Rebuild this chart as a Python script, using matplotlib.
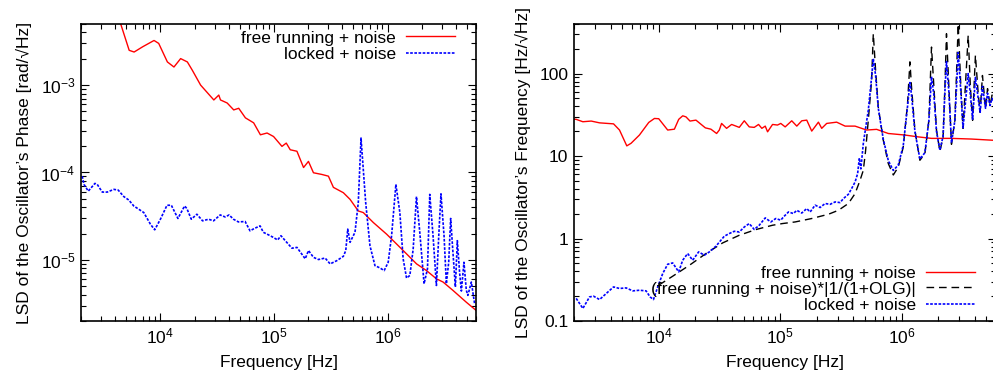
import matplotlib
matplotlib.use("Agg")
import matplotlib.pyplot as plt
from matplotlib.legend import Legend
from matplotlib.ticker import LogLocator, NullFormatter, FuncFormatter

plt.rcParams['font.family'] = ['Liberation Sans', 'DejaVu Sans']
plt.rcParams['mathtext.fontset'] = 'custom'
plt.rcParams['mathtext.rm'] = 'Liberation Sans'
plt.rcParams['mathtext.it'] = 'Liberation Sans:italic'
plt.rcParams['mathtext.default'] = 'regular'

# ---------------- data: left panel (phase) ----------------
phase_free_f = [4000, 4490, 5310, 5870, 7000, 8790, 9660, 11520, 13160, 15070, 17270, 19090,
                22590, 29530, 32660, 33800, 38700, 44200, 48900, 56000, 66200, 75900, 86900,
                99100, 117500, 128200, 139000, 159200, 182000, 201000, 222500, 263700, 301300,
                333300, 408000, 467000, 552000, 611000, 748000, 980000, 1.20e6, 1.47e6, 1.80e6,
                2.20e6, 2.69e6, 3.08e6, 3.76e6, 4.93e6, 6.0e6]
phase_free = [7.0e-3, 4.93e-3, 2.50e-3, 2.39e-3, 2.75e-3, 3.24e-3, 3.0e-3, 1.84e-3, 1.61e-3,
              2.01e-3, 1.84e-3, 1.48e-3, 1.0e-3, 6.76e-4, 7.69e-4, 6.76e-4, 6.24e-4, 5.2e-4,
              5.43e-4, 4.22e-4, 3.70e-4, 2.70e-4, 2.83e-4, 2.58e-4, 1.99e-4, 2.17e-4, 1.82e-4,
              1.75e-4, 1.14e-4, 1.34e-4, 9.93e-5, 9.5e-5, 9.08e-5, 6.76e-5, 5.87e-5, 4.93e-5,
              3.63e-5, 3.48e-5, 2.68e-5, 1.97e-5, 1.52e-5, 1.17e-5, 9.0e-6, 7.55e-6, 6.08e-6,
              5.58e-6, 4.48e-6, 3.28e-6, 2.65e-6]

phase_locked_f = [2050, 2125, 2317, 2652, 2780, 3076, 3404, 3894, 4246, 4766, 5270, 5830, 6450,
                  7140, 8170, 8910, 10000, 11430, 12480, 14260, 16330, 17100, 18700, 20950,
                  23500, 26540, 29370, 33600, 37150, 40270, 43970, 48630, 55690, 61520, 67140,
                  75380, 80520, 89070, 98600, 107600, 115200, 125600, 143900, 159200, 188200,
                  201200, 222500, 246200, 281800, 311900, 357100, 408000, 428300, 445700,
                  466900, 516400, 552000, 583400, 611000, 641000, 699500, 773900, 855500,
                  933000, 1.012e6, 1.084e6, 1.183e6, 1.282e6, 1.370e6, 1.468e6, 1.570e6,
                  1.679e6, 1.795e6, 1.920e6, 2.094e6, 2.244e6, 2.350e6, 2.512e6, 2.69e6,
                  2.82e6, 2.95e6, 3.14e6, 3.29e6, 3.45e6, 3.59e6, 3.76e6, 3.95e6, 4.11e6,
                  4.31e6, 4.46e6, 4.70e6, 4.93e6, 5.09e6, 5.46e6, 5.83e6]
phase_locked = [9.08e-5, 7.31e-5, 6.12e-5, 7.5e-5, 7.31e-5, 5.97e-5, 5.97e-5, 6.41e-5, 6.30e-5,
                5.30e-5, 4.84e-5, 4.14e-5, 3.80e-5, 3.48e-5, 2.56e-5, 2.21e-5, 2.92e-5, 4.22e-5,
                4.22e-5, 2.98e-5, 4.14e-5, 3.87e-5, 2.92e-5, 3.33e-5, 2.80e-5, 2.92e-5, 2.80e-5,
                3.27e-5, 3.10e-5, 3.27e-5, 2.92e-5, 2.72e-5, 2.75e-5, 2.15e-5, 2.29e-5, 2.45e-5,
                2.07e-5, 1.94e-5, 1.81e-5, 1.69e-5, 1.89e-5, 1.66e-5, 1.36e-5, 1.39e-5, 1.03e-5,
                1.28e-5, 1.07e-5, 1.01e-5, 1.05e-5, 9.0e-6, 9.8e-6, 1.10e-5, 1.28e-5, 2.25e-5,
                1.59e-5, 2.07e-5, 4.53e-5, 2.48e-4, 1.08e-4, 4.56e-5, 1.45e-5, 8.6e-6, 8.1e-6,
                7.55e-6, 9.4e-6, 1.89e-5, 7.31e-5, 3.48e-5, 1.03e-5, 6.2e-6, 6.64e-6, 1.33e-5,
                5.30e-5, 2.07e-5, 5.33e-6, 7.9e-6, 5.62e-5, 1.89e-5, 5.1e-6, 1.89e-5, 5.7e-5,
                1.89e-5, 5.33e-6, 9.4e-6, 2.98e-5, 1.22e-5, 4.9e-6, 1.66e-5, 7.0e-6, 4.4e-6,
                9.4e-6, 4.5e-6, 3.93e-6, 5.58e-6, 3.16e-6]

# ---------------- data: right panel (frequency) ----------------
freq_free_f = [2000, 2085, 2366, 2770, 3250, 4235, 4742, 5445, 5905, 6920, 8260, 9200, 9980,
               11830, 13430, 14580, 15730, 16740, 18060, 20230, 24170, 26860, 29930, 31500,
               32890, 36150, 39800, 46000, 50580, 55590, 61100, 66340, 70600, 75300, 78700,
               86500, 95000, 101100, 109900, 124500, 137000, 150600, 165500, 181900, 206500,
               219800, 241600, 291900, 342600, 413800, 515600, 622900, 777600, 1.066e6,
               1.372e6, 1.765e6, 2.578e6, 3.765e6, 5.50e6, 6.0e6]
freq_free = [28.0, 27.9, 26.1, 26.6, 25.3, 24.6, 20.7, 13.3, 14.3, 18.0, 25.6, 28.6, 28.4, 20.7,
             21.2, 27.9, 30.8, 29.9, 26.6, 27.3, 22.0, 21.2, 18.8, 20.7, 24.9, 21.7, 24.2, 22.3,
             26.8, 22.6, 22.3, 24.2, 21.7, 23.1, 19.7, 24.2, 23.8, 24.9, 22.6, 26.8, 23.1, 26.8,
             27.3, 20.1, 25.8, 21.7, 24.9, 25.8, 23.1, 23.1, 20.7, 21.1, 18.8, 18.0, 17.1, 16.4,
             16.4, 16.1, 15.6, 15.5]

freq_olg_f = [9980, 13000, 17850, 24450, 33550, 46000, 63000, 86500, 104500, 132800, 182000,
              249500, 301500, 364500, 414000, 455000, 484000, 505000, 532000, 566600, 585000,
              611000, 643000, 707000, 778000, 855000, 940000, 1.033e6, 1.12e6, 1.172e6,
              1.208e6, 1.288e6, 1.416e6, 1.557e6, 1.679e6, 1.765e6, 1.847e6, 1.94e6, 2.07e6,
              2.2e6, 2.275e6, 2.345e6, 2.454e6, 2.578e6, 2.75e6, 2.93e6, 3.08e6, 3.21e6,
              3.54e6, 3.69e6, 3.85e6, 4.06e6, 4.28e6, 4.44e6, 4.64e6, 4.92e6, 5.11e6, 5.36e6,
              5.57e6, 6.0e6]
freq_olg = [0.272, 0.349, 0.474, 0.658, 0.885, 1.096, 1.285, 1.45, 1.52, 1.59, 1.75, 1.97, 2.20,
            2.66, 3.51, 5.09, 6.73, 11.5, 27.2, 83.0, 305.0, 110.0, 39.3, 15.6, 8.1, 5.9, 7.38,
            12.9, 43.3, 139.0, 68.9, 20.6, 8.9, 10.7, 27.2, 210.0, 68.9, 20.6, 11.4, 17.1, 68.9,
            305.0, 68.9, 13.9, 27.2, 400.0, 68.9, 21.7, 291.0, 68.9, 27.2, 167.0, 57.3, 34.0,
            95.0, 37.9, 65.8, 41.3, 55.0, 45.0]

freq_locked_f = [2085, 2366, 2686, 2898, 3250, 3680, 4235, 4742, 5375, 6100, 6920, 7850, 8470,
                 9030, 9790, 10770, 11830, 13010, 14580, 15730, 17290, 19000, 21290, 23710,
                 26080, 29530, 34620, 38070, 41860, 46000, 50580, 55590, 61100, 67200, 75300,
                 83700, 92000, 101100, 106500, 117000, 128600, 137000, 150600, 165500, 176500,
                 194000, 213300, 234500, 257800, 283400, 311400, 331600, 364500, 387800,
                 414000, 434600, 449000, 462000, 484000, 532000, 566600, 585000, 611000,
                 643000, 707000, 778000, 855000, 940000, 1.033e6, 1.12e6, 1.172e6, 1.208e6,
                 1.288e6, 1.416e6, 1.557e6, 1.679e6, 1.765e6, 1.847e6, 1.94e6, 2.07e6, 2.2e6,
                 2.275e6, 2.345e6, 2.454e6, 2.578e6, 2.75e6, 2.93e6, 3.08e6, 3.21e6, 3.54e6,
                 3.69e6, 3.85e6, 4.06e6, 4.28e6, 4.44e6, 4.64e6, 4.92e6, 5.11e6, 5.36e6,
                 5.57e6, 6.0e6]
freq_locked = [0.188, 0.142, 0.196, 0.200, 0.182, 0.215, 0.259, 0.248, 0.252, 0.232, 0.236,
               0.232, 0.196, 0.182, 0.259, 0.377, 0.488, 0.506, 0.394, 0.546, 0.658, 0.546,
               0.689, 0.628, 0.689, 0.807, 1.067, 1.15, 1.225, 1.20, 1.38, 1.52, 1.29, 1.45,
               1.78, 1.59, 1.75, 1.67, 1.83, 2.10, 2.01, 2.20, 2.04, 2.31, 2.10, 2.54, 2.38,
               2.66, 2.60, 2.78, 2.73, 3.05, 3.44, 4.04, 4.85, 6.14, 9.5, 7.0, 14.2, 36.0,
               91.0, 152.0, 95.0, 38.0, 16.0, 8.8, 6.7, 7.8, 13.5, 40.0, 78.0, 55.0, 20.0,
               9.2, 11.0, 27.0, 92.0, 55.0, 20.0, 11.8, 17.5, 60.0, 140.0, 60.0, 14.5, 27.0,
               180.0, 60.0, 22.0, 100.0, 55.0, 28.0, 90.0, 50.0, 34.0, 70.0, 38.0, 58.0,
               41.0, 50.0, 42.0]

labels_left = ["free running + noise", "locked + noise"]
labels_right = ["free running + noise", "(free running + noise)*|1/(1+OLG)|", "locked + noise"]

# ---------------- figure ----------------
W, H = 993, 381
fig = plt.figure(figsize=(W / 100, H / 100), dpi=100)
FS = 12.5

axL = fig.add_axes([81 / W, (H - 321) / H, 395 / W, 297 / H])
axR = fig.add_axes([574 / W, (H - 321) / H, 422 / W, 297 / H])

RED = '#ff0000'
BLUE = '#0000ff'
dot = (0, (1.6, 0.9))
dash = (0, (5.5, 3.5))

l1, = axL.plot(phase_free_f, phase_free, color=RED, lw=1.0)
l2, = axL.plot(phase_locked_f, phase_locked, color=BLUE, lw=1.2, ls=dot)

r1, = axR.plot(freq_free_f, freq_free, color=RED, lw=1.0)
r2, = axR.plot(freq_olg_f, freq_olg, color='black', lw=1.0, ls=dash)
r3, = axR.plot(freq_locked_f, freq_locked, color=BLUE, lw=1.2, ls=dot)

for ax in (axL, axR):
    ax.set_xscale('log')
    ax.set_yscale('log')
    ax.set_xlim(2e3, 6e6)
    ax.xaxis.set_major_locator(LogLocator(base=10, numticks=20))
    ax.xaxis.set_minor_locator(LogLocator(base=10, subs=range(2, 10), numticks=20))
    ax.xaxis.set_minor_formatter(NullFormatter())
    ax.tick_params(which='both', direction='in', top=True, right=True,
                   labelsize=FS, width=0.8)
    ax.tick_params(which='major', length=6, pad=4)
    ax.tick_params(which='minor', length=3.5)
    for s in ax.spines.values():
        s.set_linewidth(1.2)
    ax.set_xlabel("Frequency [Hz]", fontsize=FS, labelpad=6)

axL.set_ylim(2e-6, 5e-3)
axL.yaxis.set_major_locator(LogLocator(base=10, numticks=20))
axL.yaxis.set_minor_locator(LogLocator(base=10, subs=range(2, 10), numticks=20))
axL.yaxis.set_minor_formatter(NullFormatter())
axL.set_ylabel("LSD of the Oscillator\u2019s Phase [rad/\u221aHz]", fontsize=FS, labelpad=6)

axR.set_ylim(0.1, 400)
axR.yaxis.set_major_locator(LogLocator(base=10, numticks=20))
axR.yaxis.set_minor_locator(LogLocator(base=10, subs=range(2, 10), numticks=20))
axR.yaxis.set_major_formatter(FuncFormatter(lambda v, _: f"{v:g}"))
axR.yaxis.set_minor_formatter(NullFormatter())
axR.set_ylabel("LSD of the Oscillator\u2019s Frequency [Hz/\u221aHz]", fontsize=FS, labelpad=6)


def key(ax, handle, label, x, y):
    leg = Legend(ax, [handle], [label], loc='center right', bbox_to_anchor=(x, y),
                 bbox_transform=ax.transAxes, frameon=False, markerfirst=False,
                 borderpad=0, borderaxespad=0, handlelength=2.8, handletextpad=0.6,
                 fontsize=FS)
    ax.add_artist(leg)


key(axL, l1, labels_left[0], 0.947, 0.953)
key(axL, l2, labels_left[1], 0.947, 0.896)
key(axR, r1, labels_right[0], 0.950, 0.161)
key(axR, r2, labels_right[1], 0.950, 0.108)
key(axR, r3, labels_right[2], 0.950, 0.052)

fig.savefig("out.png", dpi=100)
